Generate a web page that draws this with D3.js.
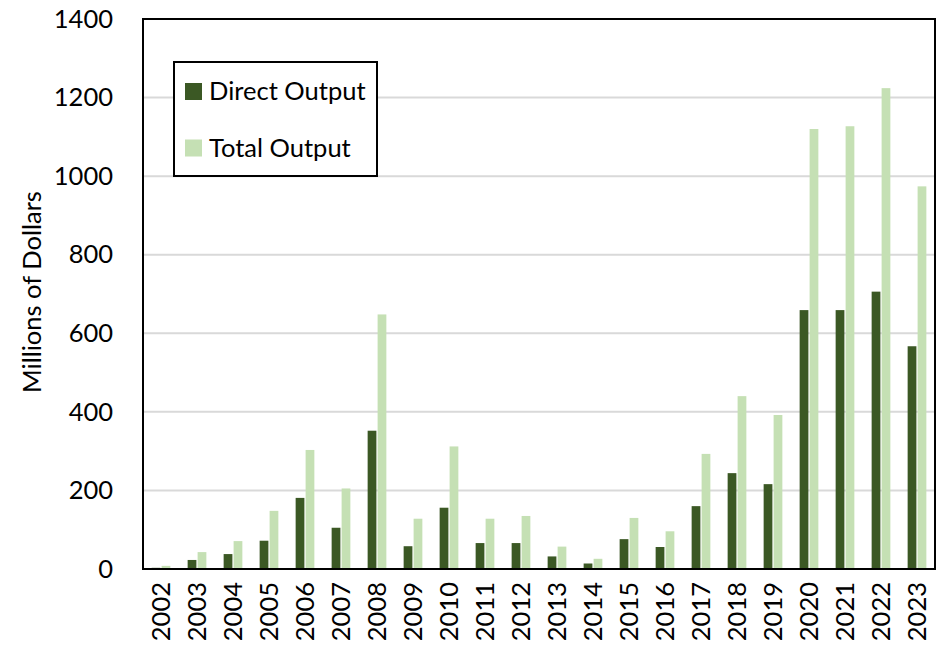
<!DOCTYPE html>
<html>
<head>
<meta charset="utf-8">
<script src="https://d3js.org/d3.v7.min.js"></script>
<style>
  body { margin: 0; background: #fff; }
  text { font-family: Lato, "Open Sans", sans-serif; fill: #000; }
</style>
</head>
<body>
<div id="chart"></div>
<script>
// Data (millions of dollars)
const years = ["2002","2003","2004","2005","2006","2007","2008","2009","2010","2011","2012",
               "2013","2014","2015","2016","2017","2018","2019","2020","2021","2022","2023"];
const directOutput = [3, 23, 38, 72, 181, 105, 352, 58, 156, 66, 66, 32, 14, 76, 56, 160, 244, 216, 659, 659, 706, 567];
const totalOutput  = [8, 43, 71, 148, 303, 205, 648, 128, 312, 128, 135, 57, 26, 130, 96, 293, 440, 392, 1120, 1127, 1224, 974];
const yTicks = [0, 200, 400, 600, 800, 1000, 1200, 1400];
const seriesNames = ["Direct Output", "Total Output"];
const seriesColors = ["#3b5824", "#c5e0b4"];

const width = 944, height = 648;
const margin = {left: 143, right: 9, top: 19, bottom: 79};
const fontSize = "25.5px";

const svg = d3.select("#chart").append("svg")
  .attr("width", width)
  .attr("height", height);

const x = d3.scaleBand()
  .domain(years)
  .range([margin.left, width - margin.right])
  .paddingInner(0.48)
  .paddingOuter(0.24);

const x1 = d3.scaleBand()
  .domain([0, 1])
  .range([0, x.bandwidth()])
  .paddingInner(0.12);

const y = d3.scaleLinear()
  .domain([0, 1400])
  .range([height - margin.bottom, margin.top]);

// gridlines
svg.append("g")
  .selectAll("line")
  .data(yTicks.slice(1, -1))
  .join("line")
  .attr("x1", margin.left)
  .attr("x2", width - margin.right)
  .attr("y1", d => y(d))
  .attr("y2", d => y(d))
  .attr("stroke", "#d9d9d9")
  .attr("stroke-width", 2);

// bars
const groups = svg.append("g")
  .selectAll("g")
  .data(years)
  .join("g")
  .attr("transform", d => "translate(" + x(d) + ",0)");

groups.append("rect")
  .attr("x", x1(0))
  .attr("width", x1.bandwidth())
  .attr("y", (d, i) => y(directOutput[i]))
  .attr("height", (d, i) => y(0) - y(directOutput[i]))
  .attr("fill", seriesColors[0]);

groups.append("rect")
  .attr("x", x1(1))
  .attr("width", x1.bandwidth())
  .attr("y", (d, i) => y(totalOutput[i]))
  .attr("height", (d, i) => y(0) - y(totalOutput[i]))
  .attr("fill", seriesColors[1]);

// frame round the plot area
svg.append("rect")
  .attr("x", margin.left)
  .attr("y", margin.top)
  .attr("width", width - margin.left - margin.right)
  .attr("height", height - margin.top - margin.bottom)
  .attr("fill", "none")
  .attr("stroke", "#000")
  .attr("stroke-width", 2);

// y axis
const yAxis = svg.append("g")
  .attr("transform", "translate(" + margin.left + ",0)")
  .call(d3.axisLeft(y).tickValues(yTicks).tickFormat(d3.format("d")).tickSize(0).tickPadding(30));
yAxis.select(".domain").remove();
yAxis.selectAll("text")
  .style("font-size", fontSize)
  .style("font-family", "Lato, sans-serif");

// x axis
const xAxis = svg.append("g")
  .attr("transform", "translate(0," + (height - margin.bottom) + ")")
  .call(d3.axisBottom(x).tickSize(0));
xAxis.select(".domain").remove();
xAxis.selectAll("text")
  .attr("transform", "rotate(-90)")
  .attr("x", -13)
  .attr("y", 0)
  .attr("dy", "0.35em")
  .style("text-anchor", "end")
  .style("font-size", fontSize)
  .style("font-family", "Lato, sans-serif");

// y axis title
svg.append("text")
  .attr("transform", "translate(41,292) rotate(-90)")
  .attr("text-anchor", "middle")
  .style("font-size", fontSize)
  .text("Millions of Dollars");

// legend
const legend = svg.append("g");
legend.append("rect")
  .attr("x", 174).attr("y", 62)
  .attr("width", 203).attr("height", 114)
  .attr("fill", "#fff")
  .attr("stroke", "#000")
  .attr("stroke-width", 2);

seriesNames.forEach(function(name, i) {
  legend.append("rect")
    .attr("x", 185).attr("y", 83 + i * 56.5)
    .attr("width", 17).attr("height", 17)
    .attr("fill", seriesColors[i]);
  legend.append("text")
    .attr("x", 209).attr("y", 100 + i * 56.5)
    .style("font-size", fontSize)
    .text(name);
});
</script>
</body>
</html>
